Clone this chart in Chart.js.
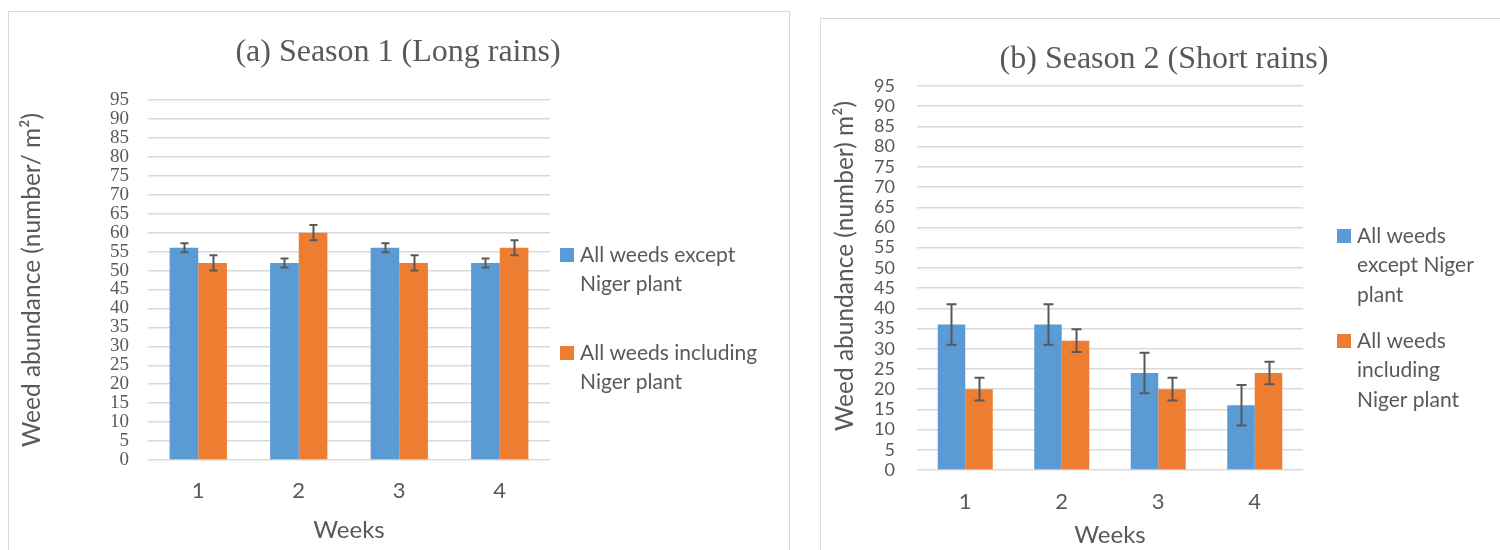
<!DOCTYPE html>
<html>
<head>
<meta charset="utf-8">
<script src="https://cdn.jsdelivr.net/npm/chart.js@4.4.0/dist/chart.umd.min.js"></script>
<style>
  html, body { margin: 0; padding: 0; background: #ffffff; }
  body { width: 1500px; height: 550px; position: relative; overflow: hidden; }
  .panel { position: absolute; border: 1.5px solid #d9d9d9; background: #fff; }
  .wrap { position: absolute; }
</style>
</head>
<body>
<div class="panel" style="left:8px; top:11px; width:780px; height:560px;"></div>
<div class="panel" style="left:820px; top:18px; width:700px; height:560px;"></div>
<div class="wrap" style="left:0px; top:0px; width:800px; height:550px;"><canvas id="c1"></canvas></div>
<div class="wrap" style="left:800px; top:0px; width:700px; height:550px;"><canvas id="c2"></canvas></div>
<script>
// ---------- data ----------
const weeks = ['1', '2', '3', '4'];
const seriesNames = ['All weeds except Niger plant', 'All weeds including Niger plant'];

const s1Except = [56, 52, 56, 52];
const s1ExceptErr = [1.2, 1.2, 1.2, 1.2];
const s1Including = [52, 60, 52, 56];
const s1IncludingErr = [2, 2, 2, 2];

const s2Except = [36, 36, 24, 16];
const s2ExceptErr = [5, 5, 5, 5];
const s2Including = [20, 32, 20, 24];
const s2IncludingErr = [2.8, 2.8, 2.8, 2.8];

const yTickMax = 95;
const yTickStep = 5;

const title1 = '(a) Season 1 (Long rains)';
const title2 = '(b) Season 2 (Short rains)';
const yTitle1 = 'Weed abundance (number/ m\u00B2)';
const yTitle2 = 'Weed abundance (number) m\u00B2)';
const xTitle = 'Weeks';
const legend1Lines = [['All weeds except', 'Niger plant'], ['All weeds including', 'Niger plant']];
const legend2Lines = [['All weeds', 'except Niger', 'plant'], ['All weeds', 'including', 'Niger plant']];

const BLUE = '#5b9bd5';
const ORANGE = '#ed7d31';
const GRAY = '#595959';
const GRID = '#d9d9d9';

// ---------- plugins ----------
const errorBars = {
  id: 'errorBars',
  afterDatasetsDraw(chart, args, opts) {
    const ctx = chart.ctx;
    const ys = chart.scales.y;
    ctx.save();
    ctx.strokeStyle = GRAY;
    ctx.lineWidth = 2;
    chart.data.datasets.forEach((ds, i) => {
      const meta = chart.getDatasetMeta(i);
      meta.data.forEach((bar, j) => {
        const v = ds.data[j], e = ds.errors[j];
        const x = Math.round(bar.x) + 0.5;
        const yt = ys.getPixelForValue(v + e);
        const yb = ys.getPixelForValue(v - e);
        const c = opts.cap;
        ctx.beginPath();
        ctx.moveTo(x, yt); ctx.lineTo(x, yb);
        ctx.moveTo(x - c, yt); ctx.lineTo(x + c, yt);
        ctx.moveTo(x - c, yb); ctx.lineTo(x + c, yb);
        ctx.stroke();
      });
    });
    ctx.restore();
  }
};

const decor = {
  id: 'decor',
  afterDraw(chart, args, o) {
    const ctx = chart.ctx;
    ctx.save();
    ctx.fillStyle = GRAY;
    ctx.textAlign = 'center';
    ctx.textBaseline = 'middle';
    ctx.font = o.titleFont;
    ctx.fillText(o.title, o.titleX, o.titleY);
    ctx.font = o.axisFont;
    ctx.fillText(o.xTitle, o.xTitleX, o.xTitleY);
    ctx.save();
    ctx.font = o.yAxisFont;
    ctx.translate(o.yTitleX, o.yTitleY);
    ctx.rotate(-Math.PI / 2);
    ctx.fillText(o.yTitle, 0, 0);
    ctx.restore();
    ctx.textAlign = 'left';
    ctx.font = o.legendFont;
    chart.data.datasets.forEach((ds, i) => {
      const lines = o.legendLines[i];
      const y0 = o.legendY[i];
      ctx.fillStyle = ds.backgroundColor;
      ctx.fillRect(o.legendX, y0 - 7, 14, 14);
      ctx.fillStyle = GRAY;
      lines.forEach((ln, k) => {
        ctx.fillText(ln, o.legendX + 20, y0 + k * o.legendLH);
      });
    });
    ctx.restore();
  }
};

function makeChart(id, exceptVals, exceptErr, inclVals, inclErr, cfg) {
  return new Chart(document.getElementById(id), {
    type: 'bar',
    data: {
      labels: weeks,
      datasets: [
        { label: seriesNames[0], data: exceptVals, errors: exceptErr, backgroundColor: BLUE,
          borderWidth: 0, categoryPercentage: 0.57, barPercentage: 1.0 },
        { label: seriesNames[1], data: inclVals, errors: inclErr, backgroundColor: ORANGE,
          borderWidth: 0, categoryPercentage: 0.57, barPercentage: 1.0 }
      ]
    },
    plugins: [errorBars, decor],
    options: {
      responsive: true,
      maintainAspectRatio: false,
      animation: false,
      devicePixelRatio: 1,
      layout: { padding: cfg.padding },
      plugins: {
        legend: { display: false },
        tooltip: { enabled: false },
        title: { display: false },
        errorBars: { cap: cfg.cap },
        decor: cfg.decor
      },
      scales: {
        x: {
          grid: { display: false, drawTicks: false },
          border: { display: false },
          ticks: { color: GRAY, font: { family: 'Lato', size: 22 }, padding: cfg.xTickPad },
          afterFit(s) { s.height = cfg.xHeight; }
        },
        y: {
          min: 0, max: yTickMax,
          grid: { color: GRID, lineWidth: 1.5, drawTicks: false },
          border: { display: false },
          ticks: { stepSize: yTickStep, autoSkip: false, color: GRAY, font: cfg.yFont, padding: cfg.yTickPad },
          afterFit(s) { s.width = cfg.yWidth; }
        }
      }
    }
  });
}

makeChart('c1', s1Except, s1ExceptErr, s1Including, s1IncludingErr, {
  padding: { left: 88, right: 250, top: 100, bottom: 0 },
  yWidth: 60, xHeight: 90, xTickPad: 18, yTickPad: 19, cap: 4,
  yFont: { family: 'Liberation Serif', size: 19, style: 'normal', weight: 'normal' },
  decor: {
    title: title1, titleFont: '32px "Liberation Serif"', titleX: 398, titleY: 53,
    xTitle: xTitle, axisFont: '24px Lato', xTitleX: 349, xTitleY: 530,
    yTitle: yTitle1, yAxisFont: '24.5px Lato', yTitleX: 32, yTitleY: 280,
    legendLines: legend1Lines, legendFont: '21px Lato', legendX: 560, legendY: [255, 353], legendLH: 29
  }
});

makeChart('c2', s2Except, s2ExceptErr, s2Including, s2IncludingErr, {
  padding: { left: 57, right: 197, top: 86, bottom: 0 },
  yWidth: 60, xHeight: 80, xTickPad: 19, yTickPad: 22, cap: 5,
  yFont: { family: 'Lato', size: 18 },
  decor: {
    title: title2, titleFont: '32px "Liberation Serif"', titleX: 364, titleY: 60,
    xTitle: xTitle, axisFont: '24px Lato', xTitleX: 310, xTitleY: 535,
    yTitle: yTitle2, yAxisFont: '24.5px Lato', yTitleX: 45, yTitleY: 266,
    legendLines: legend2Lines, legendFont: '21px Lato', legendX: 537, legendY: [236, 341], legendLH: 29.5
  }
});
</script>
</body>
</html>
